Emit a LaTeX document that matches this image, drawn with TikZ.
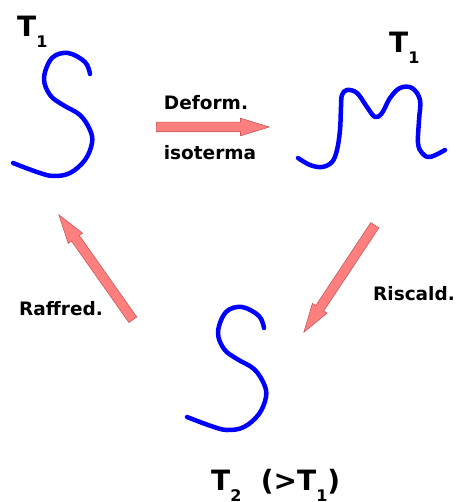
\documentclass[tikz,border=0pt]{standalone}
\usepackage{fontspec}
\setmainfont{DejaVu Sans}
\usepackage{tikz}
\usetikzlibrary{calc,shapes.arrows}
\definecolor{wirecol}{HTML}{0000FF}
\definecolor{arrfill}{HTML}{FF7F7F}
\definecolor{arrline}{HTML}{C85A5A}
\newcommand{\tlab}[1]{T\raisebox{-11pt}{\fontsize{16}{16}\selectfont #1}}
% block arrow from tail coordinate to tip coordinate
\newcommand{\fatarrow}[3]{%
  \path let \p1=($(#3)-(#2)$), \n1={atan2(\y1,\x1)}, \n2={veclen(\x1,\y1)} in
    node[blockarrow,minimum height=\n2,rotate=\n1,anchor=tail] (#1) at (#2) {};}

\begin{document}
\begin{tikzpicture}[x=1pt,y=-1pt,
    wire/.style={draw=wirecol,line width=4.5pt,line cap=round,line join=round},
    blockarrow/.style={shape=single arrow,draw=arrline,fill=arrfill,line width=0.6pt,
      inner xsep=0pt,inner ysep=4.5pt,text height=0pt,text depth=0pt,minimum width=0pt,
      single arrow head extend=4pt,single arrow tip angle=34},
    lab/.style={font=\fontsize{18.5}{20}\selectfont\bfseries,anchor=base},
    tname/.style={font=\fontsize{28}{30}\selectfont\bfseries,anchor=base west,inner sep=0pt}]
  \useasboundingbox (0,0) rectangle (457,502);
  % the two S-shaped chains
  \foreach \s in {(0,0),(174,254)}
    \draw[wire,shift={\s}] plot[smooth,tension=0.6] coordinates {(90,74) (85,62) (68,53) (52,58)
      (44,78) (50,95) (63,105) (80,115) (90,130) (92,143) (85,160) (70,173) (53,176) (37,172) (13,163)};
  % the stretched chain
  \draw[wire] plot[smooth,tension=0.6] coordinates {(298,158) (310,165) (322,167) (332,162) (337,150)
    (340,130) (341,107) (342,95) (347,90) (357,93) (367,107) (375,117) (382,113) (390,98) (400,88)
    (412,88) (420,100) (419,120) (418,143) (422,153) (430,157) (445,150)};
  \node[tname] (tA) at (17,37) {\tlab{1}};
  \node[tname] (tB) at (389,53) {\tlab{1}};
  \node[tname] (tC) at (211,490) {\tlab{2}\ \ (>\tlab{1})};
  \coordinate (dtail) at (156,127);
  \coordinate (dtip) at (269,127);
  \coordinate (rtail) at (375,225);
  \coordinate (rtip) at (304,332);
  \coordinate (ftail) at (133,320);
  \coordinate (ftip) at (59,215);
  \fatarrow{deform}{dtail}{dtip}
  \fatarrow{riscald}{rtail}{rtip}
  \fatarrow{raffred}{ftail}{ftip}
  \node[lab] (ldef) at (206,110) {Deform.};
  \node[lab] (liso) at (210,160) {isoterma};
  \node[lab] (lris) at (414,300) {Riscald.};
  \node[lab] (lraf) at (61,315) {Raffred.};
\end{tikzpicture}
\end{document}
